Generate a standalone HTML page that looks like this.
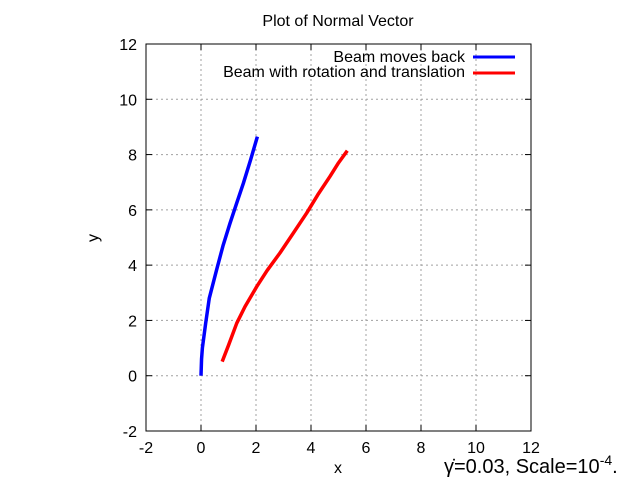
<!DOCTYPE html>
<html><head><meta charset="utf-8"><style>
body{margin:0;background:#fff;}
svg{display:block;font-family:"Liberation Sans",sans-serif;}
</style></head><body>
<svg id="c" width="640" height="480"></svg>
<script>
const xTicks=[-2,0,2,4,6,8,10,12];
const yTicks=[-2,0,2,4,6,8,10,12];
const blueX=[0,0.02,0.05,0.17,0.3,0.57,0.8,1.05,1.3,1.54,1.8,2.05];
const blueY=[0,0.6,1.0,1.9,2.8,3.84,4.7,5.5,6.25,6.96,7.8,8.65];
const redX=[0.77,1.0,1.3,1.6,2.03,2.4,2.87,3.35,3.84,4.25,4.69,5.0,5.32];
const redY=[0.51,1.1,1.9,2.5,3.23,3.8,4.44,5.15,5.88,6.55,7.21,7.7,8.14];
const L=146,R=531,T=44,B=431;
const sx=v=>L+(v+2)/14*(R-L), sy=v=>B-(v+2)/14*(B-T);
const s=document.getElementById('c'),NS='http://www.w3.org/2000/svg';
function add(tag,at,txt){const e=document.createElementNS(NS,tag);for(const k in at)e.setAttribute(k,at[k]);if(txt!=null)e.textContent=txt;s.appendChild(e);return e;}
xTicks.forEach(t=>{const x=sx(t);
 if(t>-2&&t<12){const g=add('line',{x1:x,x2:x,y1:T,y2:B,stroke:'#a0a0a0','stroke-dasharray':'2,3'});}
 const tk=add('text',{x:x,y:B+22,'text-anchor':'middle','font-size':16},t);
 add('line',{x1:x,x2:x,y1:B,y2:B-6,stroke:'#000'});add('line',{x1:x,x2:x,y1:T,y2:T+6,stroke:'#000'});
});
yTicks.forEach(t=>{const y=sy(t);
 if(t>-2&&t<12){const g=add('line',{x1:L,x2:R,y1:y,y2:y,stroke:'#a0a0a0','stroke-dasharray':'2,3'});}
 const tk=add('text',{x:L-9,y:y+6,'text-anchor':'end','font-size':16},t);
 add('line',{x1:L,x2:L+6,y1:y,y2:y,stroke:'#000'});add('line',{x1:R,x2:R-6,y1:y,y2:y,stroke:'#000'});
});
const fr=add('rect',{x:L,y:T,width:R-L,height:B-T,fill:'none',stroke:'#000'});
function series(xs,ys,col,name){const p=add('polyline',{points:xs.map((x,i)=>sx(x)+','+sy(ys[i])).join(' '),fill:'none',stroke:col,'stroke-width':3.5,'stroke-linejoin':'round'});}
series(blueX,blueY,'#0000ff','series-beam-moves-back');
series(redX,redY,'#ff0000','series-beam-rotation-translation');
const l1=add('text',{x:465,y:62,'text-anchor':'end','font-size':16},'Beam moves back');
add('line',{x1:473,x2:515,y1:57,y2:57,stroke:'#0000ff','stroke-width':3});
const l2=add('text',{x:465,y:77,'text-anchor':'end','font-size':16},'Beam with rotation and translation');
add('line',{x1:473,x2:515,y1:73,y2:73,stroke:'#ff0000','stroke-width':3});
const ti=add('text',{x:338,y:26,'text-anchor':'middle','font-size':16},'Plot of Normal Vector');
const xl=add('text',{x:338,y:473,'text-anchor':'middle','font-size':16},'x');
const yl=add('text',{x:98,y:238,'text-anchor':'middle','font-size':16,transform:'rotate(-90 98 238)'},'y');
const an=add('text',{x:444,y:473,'font-size':20},'');
an.innerHTML='γ̇=0.03, Scale=10<tspan dy="-8" font-size="14">-4</tspan><tspan dy="8">.</tspan>';
</script>
</body></html>
